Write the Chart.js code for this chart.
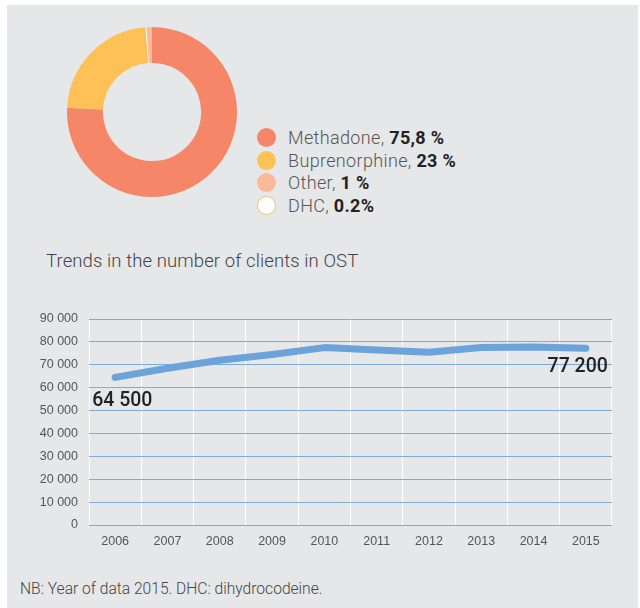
<!DOCTYPE html>
<html>
<head>
<meta charset="utf-8">
<script src="https://cdn.jsdelivr.net/npm/chart.js@4/dist/chart.umd.min.js"></script>
<style>
  html, body { margin: 0; padding: 0; background: #fff; }
  body { width: 640px; height: 608px; position: relative; overflow: hidden; font-family: Roboto, "Noto Sans", sans-serif; }
  #panel { position: absolute; left: 7px; top: 5px; width: 631px; height: 603px; background: #e6e7e9; }
  #pieWrap { position: absolute; left: 62px; top: 22px; width: 180px; height: 180px; }
  #lineWrap { position: absolute; left: 0; top: 300px; width: 640px; height: 260px; }
  #legend { position: absolute; left: 257px; top: 127px; margin: 0; padding: 0; list-style: none; }
  #legend li { height: 22.6px; line-height: 22.6px; font-size: 18px; letter-spacing: 0.35px; font-weight: 300; color: #555; white-space: nowrap; }
  #legend .dot { display: inline-block; width: 19px; height: 19px; border-radius: 50%; vertical-align: -3px; margin-right: 12px; box-sizing: border-box; }
  #legend b { font-weight: 700; color: #222; }
  #title { position: absolute; left: 46px; top: 250px; font-size: 18.5px; letter-spacing: 0.1px; font-weight: 300; color: #444; white-space: nowrap; }
  #note { position: absolute; left: 20px; top: 580px; font-size: 15.6px; font-weight: 300; color: #444; white-space: nowrap; }
</style>
</head>
<body>
<div id="panel"></div>
<div id="pieWrap"><canvas id="pie" width="180" height="180"></canvas></div>
<ul id="legend"></ul>
<div id="title">Trends in the number of clients in OST</div>
<div id="lineWrap"><canvas id="line" width="640" height="260"></canvas></div>
<div id="note">NB: Year of data 2015. DHC: dihydrocodeine.</div>
<script>
// Treatment shares (per cent), drawn clockwise from the top
const drugs = ['Methadone', 'Buprenorphine', 'DHC', 'Other'];
const drugShares = [75.8, 23, 0.2, 1];
const drugShareText = ['75,8 %', '23 %', '0.2%', '1 %'];
const drugColors = ['#f58667', '#fec157', '#ffffff', '#fcb89b'];
const legendOrder = [0, 1, 3, 2];

// Clients in opioid substitution treatment per year
const years = ['2006', '2007', '2008', '2009', '2010', '2011', '2012', '2013', '2014', '2015'];
const clients = [64500, 68500, 72000, 74500, 77500, 76500, 75500, 77500, 77800, 77200];

const fmt = v => String(v).replace(/\B(?=(\d{3})+(?!\d))/g, ' ');

new Chart(document.getElementById('pie'), {
  type: 'doughnut',
  data: {
    labels: drugs,
    datasets: [{ data: drugShares, backgroundColor: drugColors, borderWidth: 0 }]
  },
  options: {
    responsive: false,
    animation: false,
    radius: 85,
    cutout: 52,
    layout: { padding: 0 },
    plugins: { legend: { display: false }, tooltip: { enabled: false } }
  }
});

// Legend with bold shares
const legend = document.getElementById('legend');
legendOrder.forEach(i => {
  const li = document.createElement('li');
  const dot = document.createElement('span');
  dot.className = 'dot';
  dot.style.background = drugColors[i];
  if (drugColors[i] === '#ffffff') dot.style.border = '1.5px solid #fec157';
  li.appendChild(dot);
  li.appendChild(document.createTextNode(drugs[i] + ', '));
  const b = document.createElement('b');
  b.textContent = drugShareText[i];
  li.appendChild(b);
  legend.appendChild(li);
});

// Value labels at the first and last year
const endLabels = {
  id: 'endLabels',
  afterDatasetsDraw(chart) {
    const pts = chart.getDatasetMeta(0).data;
    const data = chart.data.datasets[0].data;
    const ctx = chart.ctx;
    ctx.save();
    ctx.font = '500 19.5px Roboto, sans-serif';
    ctx.fillStyle = '#222';
    ctx.textBaseline = 'alphabetic';
    const first = pts[0], last = pts[pts.length - 1];
    ctx.textAlign = 'left';
    ctx.fillText(fmt(data[0]), first.x - 23, first.y + 29);
    ctx.textAlign = 'right';
    ctx.fillText(fmt(data[data.length - 1]), last.x + 22, last.y + 24);
    ctx.restore();
  }
};

const tickFont = { family: '"Liberation Sans Narrow", "Liberation Sans", sans-serif', size: 12.5 };

new Chart(document.getElementById('line'), {
  type: 'line',
  data: {
    labels: years,
    datasets: [{
      data: clients,
      borderColor: '#6ca3da',
      borderWidth: 7,
      borderCapStyle: 'round',
      borderJoinStyle: 'round',
      pointRadius: 0,
      tension: 0,
      fill: false
    }]
  },
  options: {
    responsive: false,
    animation: false,
    layout: { padding: { left: 0, right: 28, top: 19, bottom: 0 } },
    plugins: { legend: { display: false }, tooltip: { enabled: false } },
    scales: {
      x: {
        offset: true,
        grid: { offset: true, color: '#ffffff', lineWidth: 1, drawTicks: false },
        border: { display: false },
        ticks: { color: '#555', font: tickFont, padding: 9, maxRotation: 0 },
        afterFit: s => { s.height = 35; }
      },
      y: {
        min: 0,
        max: 90000,
        grid: { color: '#7eaadc', lineWidth: 1, drawTicks: false },
        border: { display: false },
        ticks: { stepSize: 10000, color: '#555', font: tickFont, padding: 11, callback: v => fmt(v) },
        afterFit: s => { s.width = 89; }
      }
    }
  },
  plugins: [endLabels]
});
</script>
</body>
</html>
